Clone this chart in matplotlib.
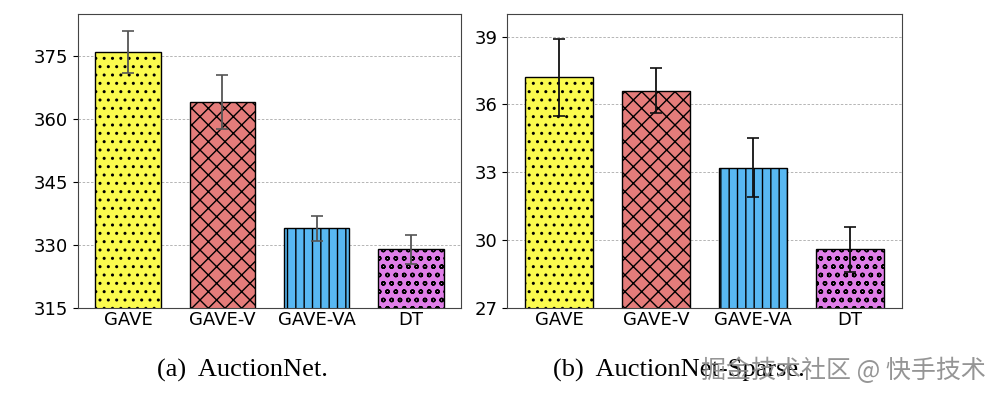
import numpy as np
import matplotlib.pyplot as plt

# Data
methods = ["GAVE", "GAVE-V", "GAVE-VA", "DT"]
dense_mean = [376.0, 364.0, 334.0, 329.0]
dense_err = [5.0, 6.5, 3.0, 3.5]
sparse_mean = [37.2, 36.6, 33.2, 29.6]
sparse_err = [1.7, 1.0, 1.3, 1.0]

colors = ["#fbfb4e", "#e47c7a", "#58b8f2", "#e07ee8"]
hatches = ["..", "xx", "||", "oo"]


def draw_panel(ax, means, errs, ylim, yticks, ecolor):
    x = np.arange(len(methods))
    ax.bar(x, means, width=0.7, color=colors, edgecolor="black",
           hatch=hatches, linewidth=1, zorder=2)
    ax.errorbar(x, means, yerr=errs, fmt="none", ecolor=ecolor,
                elinewidth=1.3, capsize=4, capthick=1.2, zorder=3)
    ax.set_ylim(*ylim)
    ax.set_yticks(yticks)
    ax.set_xticks(x)
    ax.set_xticklabels(methods)
    ax.tick_params(axis="both", labelsize=13)
    ax.tick_params(axis="x", length=0, pad=2)
    ax.yaxis.grid(True, linestyle=(0, (3, 2)), color="#aaaaaa", linewidth=0.6)
    ax.set_axisbelow(True)
    for s in ax.spines.values():
        s.set_color("#444444")


fig = plt.figure(figsize=(10, 3.98), dpi=100)
ax1 = fig.add_axes([0.078, 0.226, 0.383, 0.739])
ax2 = fig.add_axes([0.507, 0.226, 0.395, 0.739])

draw_panel(ax1, dense_mean, dense_err, (315, 385), [315, 330, 345, 360, 375], "#555555")
draw_panel(ax2, sparse_mean, sparse_err, (27, 40), [27, 30, 33, 36, 39], "#111111")

fig.text(0.157, 0.068, "(a)  AuctionNet.", ha="left", va="center",
         fontsize=19, family="Liberation Serif")
fig.text(0.553, 0.068, "(b)  AuctionNet-Sparse.", ha="left", va="center",
         fontsize=19, family="Liberation Serif")
fig.text(0.986, 0.068, "掘金技术社区 @ 快手技术", ha="right", va="center",
         fontsize=18, color="#8a8a8a", alpha=0.9,
         family=["Noto Sans CJK SC", "DejaVu Sans"])

plt.savefig("out.png", dpi=100)
plt.close()
